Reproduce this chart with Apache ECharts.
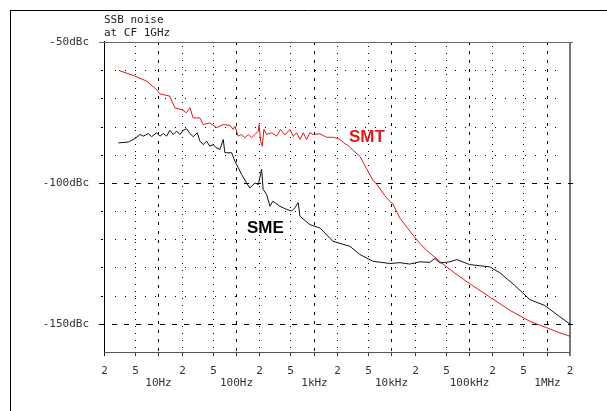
<!DOCTYPE html>
<html>
<head>
<meta charset="utf-8">
<script src="https://cdn.jsdelivr.net/npm/echarts@6/dist/echarts.min.js"></script>
<style>
  html, body { margin: 0; padding: 0; background: #fff; }
  #chart { width: 607px; height: 411px; }
</style>
</head>
<body>
<div id="chart"></div>
<script>
  // SMT (red) trace: offset frequency in Hz, SSB noise in dBc
  const smtFreq = [3.1, 4.8, 7.1, 9.5, 10.5, 14, 16.4, 20, 23, 25.6, 28, 34.4, 37.9, 46, 56.4, 68.6, 84, 92.3, 97, 107, 118, 130.5, 144, 159, 176, 194, 199, 208, 218, 229, 248, 288, 334, 376, 427, 495, 546, 604, 666, 735, 812, 896, 988, 1205, 1470, 1786, 2180, 2528, 2870, 3200, 3940, 4850, 5800, 6500, 8800, 10500, 12900, 19000, 23300, 28700, 43500, 65800, 102600, 185700, 336000, 607600, 1005000, 1478000, 2000000];
  const smtDb   = [-60.1, -61.9, -63.9, -66.9, -68.4, -69.2, -73.4, -74.0, -75.1, -73.3, -76.9, -77.0, -79.3, -78.7, -80.4, -79.3, -79.6, -81.0, -79.9, -83.4, -82.8, -84.0, -82.8, -84.0, -82.8, -81.6, -79.3, -85.2, -87.0, -81.0, -82.8, -82.2, -83.4, -81.0, -83.0, -81.0, -83.4, -82.2, -84.6, -82.2, -84.6, -82.2, -82.8, -82.6, -83.8, -83.8, -84.6, -86.0, -87.0, -88.4, -90.5, -95.2, -99.0, -100.5, -105.5, -107.5, -112.5, -118.5, -121.5, -124.0, -128.2, -132.0, -135.8, -140.5, -145.2, -149.1, -151.4, -153.2, -154.4];

  // SME (black) trace
  const smeFreq = [3.06, 4.11, 5.0, 5.81, 6.41, 7.43, 8.22, 9.53, 10.5, 11.6, 12.8, 14.1, 15.6, 17.2, 19, 21, 23.2, 25.6, 28.2, 31.8, 34.4, 37.9, 42, 46, 51, 55.3, 62.2, 68.6, 72, 75.9, 88, 97, 107, 118, 137, 151, 176, 194, 214, 224, 248, 274, 299, 368, 449, 521, 574, 633, 666, 896, 1205, 1770, 2930, 3940, 5800, 9590, 12900, 17300, 23300, 31400, 36400, 42200, 56800, 69800, 102600, 185700, 250000, 389600, 607600, 948000, 1478000, 2000000];
  const smeDb   = [-85.8, -85.5, -84.3, -82.8, -83.4, -82.5, -83.6, -82.2, -83.4, -82.5, -83.4, -81.3, -82.8, -81.6, -82.8, -81.3, -80.8, -82.5, -83.6, -82.2, -85.2, -86.4, -85.2, -87.0, -86.4, -87.5, -88.1, -84.6, -89.3, -89.9, -89.3, -92.3, -94.6, -97.0, -100.0, -101.8, -100.0, -100.6, -95.2, -102.3, -104.1, -108.3, -106.5, -108.3, -109.4, -110.0, -108.8, -107.0, -111.8, -114.8, -116.0, -120.7, -122.5, -125.4, -127.8, -128.6, -128.3, -128.8, -128.0, -128.2, -126.8, -128.4, -128.0, -127.2, -129.0, -129.8, -131.9, -136.4, -141.4, -143.5, -147.5, -150.1];

  // x axis ticks (log scale, 2 Hz .. 2 MHz)
  const xTicks   = [2, 5, 10, 20, 50, 100, 200, 500, 1e3, 2e3, 5e3, 1e4, 2e4, 5e4, 1e5, 2e5, 5e5, 1e6, 2e6];
  const xDigits  = ['2', '5', '', '2', '5', '', '2', '5', '', '2', '5', '', '2', '5', '', '2', '5', '', '2'];
  const xDecades = ['', '', '10Hz', '', '', '100Hz', '', '', '1kHz', '', '', '10kHz', '', '', '100kHz', '', '', '1MHz', ''];

  // y axis grid levels and labels
  const yLevels = [-50, -60, -70, -80, -90, -100, -110, -120, -130, -140, -150, -160];
  const yLabelValues = [-50, -100, -150];
  const yLabelTexts = ['-50dBc', '-100dBc', '-150dBc'];

  const MONO = '"DejaVu Sans Mono", "Liberation Mono", monospace';

  const chart = echarts.init(document.getElementById('chart'));

  function zip(a, b) {
    return a.map((v, i) => [v, b[i]]);
  }

  // vertical grid lines, bottom ticks and frequency labels
  function renderV(params, api) {
    const i = params.dataIndex;
    const cs = params.coordSys;
    const top = cs.y, bot = cs.y + cs.height;
    let x = Math.round(api.coord([api.value(0), -160])[0]) + 0.5;
    const kids = [];
    if (i === 0) {
      kids.push({ type: 'line', shape: { x1: x, y1: top - 1, x2: x, y2: bot + 4 }, style: { stroke: '#000', lineWidth: 1 } });
    } else if (i === xTicks.length - 1) {
      x = Math.round(cs.x + cs.width);
      kids.push({ type: 'line', shape: { x1: x, y1: top, x2: x, y2: bot + 4 }, style: { stroke: '#777', lineWidth: 2 } });
    } else if (xDecades[i]) {
      kids.push({ type: 'line', shape: { x1: x, y1: top, x2: x, y2: bot }, style: { stroke: '#000', lineWidth: 1, lineDash: [3, 6] } });
      kids.push({ type: 'line', shape: { x1: x, y1: bot, x2: x, y2: bot + 4 }, style: { stroke: '#333', lineWidth: 1 } });
    } else {
      kids.push({ type: 'line', shape: { x1: x, y1: top + 4, x2: x, y2: bot }, style: { stroke: '#000', lineWidth: 1, lineDash: [1, 6] } });
      kids.push({ type: 'line', shape: { x1: x, y1: bot, x2: x, y2: bot + 4 }, style: { stroke: '#333', lineWidth: 1 } });
    }
    if (xDigits[i]) {
      kids.push({ type: 'text', style: { text: xDigits[i], x: x, y: bot + 19, align: 'center', verticalAlign: 'middle', font: '11px ' + MONO, fill: '#333' } });
    }
    if (xDecades[i]) {
      kids.push({ type: 'text', style: { text: xDecades[i], x: x, y: bot + 31, align: 'center', verticalAlign: 'middle', font: '11px ' + MONO, fill: '#333' } });
    }
    return { type: 'group', children: kids };
  }

  // horizontal grid lines, left ticks, borders
  function renderH(params, api) {
    const v = api.value(1);
    const cs = params.coordSys;
    const L = cs.x, R = cs.x + cs.width;
    const y = Math.round(api.coord([2, v])[1]) + 0.5;
    const kids = [];
    if (v === -50) {
      kids.push({ type: 'line', shape: { x1: L - 5, y1: y, x2: R + 3, y2: y }, style: { stroke: '#6a6a6a', lineWidth: 1 } });
    } else if (v === -160) {
      kids.push({ type: 'line', shape: { x1: L, y1: y, x2: R, y2: y }, style: { stroke: '#555', lineWidth: 1 } });
    } else if (v === -100 || v === -150) {
      kids.push({ type: 'line', shape: { x1: L + 8, y1: y, x2: R + 3, y2: y }, style: { stroke: '#000', lineWidth: 1, lineDash: [5, 7] } });
      kids.push({ type: 'line', shape: { x1: L - 5, y1: y, x2: L, y2: y }, style: { stroke: '#000', lineWidth: 1 } });
    } else {
      kids.push({ type: 'line', shape: { x1: L + 11, y1: y, x2: R - 8, y2: y }, style: { stroke: '#000', lineWidth: 1, lineDash: [1, 9] } });
      kids.push({ type: 'line', shape: { x1: L - 3, y1: y, x2: L - 1, y2: y }, style: { stroke: '#000', lineWidth: 1 } });
    }
    return { type: 'group', children: kids };
  }

  chart.setOption({
    animation: false,
    title: {
      text: 'SSB noise\nat CF 1GHz',
      left: 104,
      top: 14,
      padding: 0,
      textStyle: { fontFamily: MONO, fontSize: 11, fontWeight: 'normal', color: '#222', lineHeight: 13 }
    },
    grid: { left: 104, top: 42, width: 466, height: 310 },
    xAxis: {
      type: 'log',
      logBase: 10,
      min: 2,
      max: 2000000,
      axisLine: { show: false },
      axisTick: { show: false },
      axisLabel: { show: false },
      splitLine: { show: false }
    },
    yAxis: {
      type: 'value',
      min: -160,
      max: -50,
      interval: 10,
      axisLine: { show: false },
      axisTick: { show: false },
      splitLine: { show: false },
      axisLabel: {
        margin: 15,
        fontFamily: MONO,
        fontSize: 11,
        color: '#333',
        formatter: function (v) {
          const i = yLabelValues.indexOf(v);
          return i >= 0 ? yLabelTexts[i] : '';
        }
      }
    },
    graphic: [
      { type: 'line', shape: { x1: 10.5, y1: 10, x2: 10.5, y2: 411 }, style: { stroke: '#000', lineWidth: 1 } },
      { type: 'line', shape: { x1: 10, y1: 10.5, x2: 607, y2: 10.5 }, style: { stroke: '#000', lineWidth: 1 } },
      { type: 'text', left: 349, top: 129, style: { text: 'SMT', font: 'bold 17px "Liberation Sans", Arial, sans-serif', fill: '#e01b1b' } },
      { type: 'text', left: 247, top: 220, style: { text: 'SME', font: 'bold 17px "Liberation Sans", Arial, sans-serif', fill: '#000' } }
    ],
    series: [
      {
        type: 'custom',
        name: 'vgrid',
        silent: true,
        z: 1,
        renderItem: renderV,
        data: xTicks.map(f => [f, -160])
      },
      {
        type: 'custom',
        name: 'hgrid',
        silent: true,
        z: 1,
        renderItem: renderH,
        data: yLevels.map(v => [2, v])
      },
      {
        name: 'SMT',
        type: 'line',
        z: 3,
        showSymbol: false,
        data: zip(smtFreq, smtDb),
        lineStyle: { color: '#e3191c', width: 1 }
      },
      {
        name: 'SME',
        type: 'line',
        z: 4,
        showSymbol: false,
        data: zip(smeFreq, smeDb),
        lineStyle: { color: '#111', width: 1 }
      }
    ]
  });
</script>
</body>
</html>
